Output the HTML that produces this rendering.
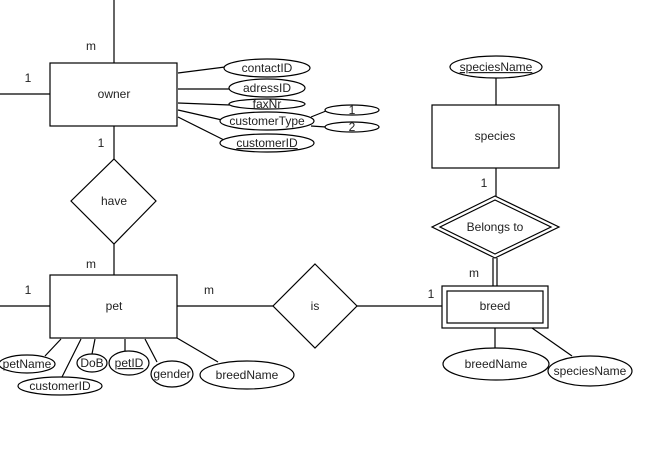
<!DOCTYPE html>
<html><head><meta charset="utf-8"><style>
html,body{margin:0;padding:0;background:#fff;}
svg{display:block;}
text{font-family:"Liberation Sans",sans-serif;font-size:12px;fill:#222;}
</style></head><body>
<svg width="661" height="456" viewBox="0 0 661 456" xmlns="http://www.w3.org/2000/svg">
<g stroke="#000" stroke-width="1.2" fill="none">
<!-- owner -->
<line x1="114" y1="0" x2="114" y2="63"/>
<line x1="0" y1="94" x2="50" y2="94"/>
<line x1="114" y1="126" x2="114" y2="159"/>
<rect x="50" y="63" width="127" height="63" fill="#fff"/>
<line x1="178" y1="73" x2="225" y2="67"/>
<line x1="178" y1="89" x2="230" y2="89"/>
<line x1="178" y1="103" x2="230" y2="105"/>
<line x1="178" y1="110" x2="222" y2="120"/>
<line x1="178" y1="117" x2="224" y2="140"/>
<line x1="311" y1="117" x2="326" y2="111"/>
<line x1="311" y1="126" x2="326" y2="127"/>
<ellipse cx="267" cy="68" rx="43" ry="9" fill="#fff"/>
<ellipse cx="267" cy="88" rx="38" ry="9" fill="#fff"/>
<ellipse cx="267" cy="104" rx="38" ry="5" fill="#fff"/>
<ellipse cx="267" cy="121" rx="47" ry="9" fill="#fff"/>
<ellipse cx="267" cy="143" rx="47" ry="9" fill="#fff"/>
<ellipse cx="352" cy="110" rx="27" ry="5" fill="#fff"/>
<ellipse cx="352" cy="127" rx="27" ry="5" fill="#fff"/>
<!-- have -->
<polygon points="114,159 156,201 114,244 71,201" fill="#fff"/>
<line x1="114" y1="244" x2="114" y2="275"/>
<!-- pet -->
<line x1="0" y1="306" x2="50" y2="306"/>
<rect x="50" y="275" width="127" height="63" fill="#fff"/>
<line x1="177" y1="306" x2="273" y2="306"/>
<polygon points="315,264 357,306 315,348 273,306" fill="#fff"/>
<line x1="357" y1="306" x2="442" y2="306"/>
<line x1="61" y1="339" x2="45" y2="356"/>
<line x1="81" y1="339" x2="62" y2="377"/>
<line x1="95" y1="339" x2="92" y2="354"/>
<line x1="125" y1="339" x2="125" y2="351"/>
<line x1="145" y1="339" x2="157" y2="362"/>
<line x1="177" y1="338" x2="218" y2="362"/>
<ellipse cx="27" cy="364" rx="28" ry="9" fill="#fff"/>
<ellipse cx="60" cy="386" rx="42" ry="9" fill="#fff"/>
<ellipse cx="92" cy="363" rx="15" ry="9" fill="#fff"/>
<ellipse cx="129" cy="363" rx="20" ry="12" fill="#fff"/>
<ellipse cx="172" cy="374" rx="21" ry="13" fill="#fff"/>
<ellipse cx="247" cy="375" rx="47" ry="14" fill="#fff"/>
<!-- species -->
<line x1="496" y1="78" x2="496" y2="105"/>
<ellipse cx="496" cy="67" rx="46" ry="11" fill="#fff"/>
<rect x="432" y="105" width="127" height="63" fill="#fff"/>
<line x1="496" y1="168" x2="496" y2="197"/>
<polygon points="495,196 559,227 495,258 432,227" fill="#fff"/>
<polygon points="495,200 551,227 495,254 440,227"/>
<line x1="493" y1="258" x2="493" y2="286"/>
<line x1="497" y1="258" x2="497" y2="286"/>
<rect x="442" y="286" width="106" height="42" fill="#fff"/>
<rect x="447" y="291" width="96" height="32"/>
<line x1="495" y1="328" x2="495" y2="348"/>
<line x1="532" y1="328" x2="572" y2="356"/>
<ellipse cx="496" cy="364" rx="53" ry="16" fill="#fff"/>
<ellipse cx="590" cy="371" rx="42" ry="15" fill="#fff"/>
</g>
<g text-anchor="middle">
<text x="91" y="50">m</text>
<text x="28" y="82">1</text>
<text x="101" y="147">1</text>
<text x="114" y="98">owner</text>
<text x="267" y="72">contactID</text>
<text x="267" y="92">adressID</text>
<text x="267" y="108">faxNr</text>
<text x="267" y="125">customerType</text>
<text x="267" y="147" text-decoration="underline">customerID</text>
<text x="352" y="114">1</text>
<text x="352" y="131">2</text>
<text x="114" y="205">have</text>
<text x="91" y="268">m</text>
<text x="28" y="294">1</text>
<text x="209" y="294">m</text>
<text x="114" y="310">pet</text>
<text x="315" y="310">is</text>
<text x="431" y="298">1</text>
<text x="27" y="368">petName</text>
<text x="60" y="390">customerID</text>
<text x="92" y="367">DoB</text>
<text x="129" y="367" text-decoration="underline">petID</text>
<text x="172" y="378">gender</text>
<text x="247" y="379">breedName</text>
<text x="496" y="71" text-decoration="underline">speciesName</text>
<text x="495" y="140">species</text>
<text x="484" y="187">1</text>
<text x="495" y="231">Belongs to</text>
<text x="474" y="277">m</text>
<text x="495" y="310">breed</text>
<text x="496" y="368">breedName</text>
<text x="590" y="375">speciesName</text>
</g>
</svg>
</body></html>
